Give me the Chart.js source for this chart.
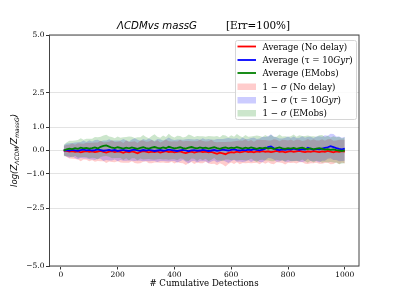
<!DOCTYPE html>
<html>
<head>
<meta charset="utf-8">
<script src="https://cdn.jsdelivr.net/npm/chart.js@4"></script>
<style>
  html, body { margin: 0; padding: 0; background: #fff; }
  #wrap { width: 399px; height: 299px; }
</style>
</head>
<body>
<div id="wrap"><canvas id="myChart" width="399" height="299"></canvas></div>
<script>
// detections axis (every 10th point)
const detections = [10,20,30,40,50,60,70,80,90,100,110,120,130,140,150,160,170,180,190,200,
  210,220,230,240,250,260,270,280,290,300,310,320,330,340,350,360,370,380,390,400,
  410,420,430,440,450,460,470,480,490,500,510,520,530,540,550,560,570,580,590,600,
  610,620,630,640,650,660,670,680,690,700,710,720,730,740,750,760,770,780,790,800,
  810,820,830,840,850,860,870,880,890,900,910,920,930,940,950,960,970,980,990,1000];

const avgNoDelay = [0.0,-0.02,-0.05,-0.03,-0.06,-0.04,-0.08,-0.05,-0.03,-0.06,
  -0.04,-0.07,-0.05,-0.02,-0.06,-0.09,-0.05,-0.03,-0.07,-0.04,
  -0.06,-0.1,-0.05,-0.08,-0.04,-0.07,-0.12,-0.06,-0.03,-0.05,
  -0.08,-0.05,-0.07,-0.04,-0.09,-0.06,-0.03,-0.07,-0.05,-0.08,
  -0.06,-0.04,-0.08,-0.11,-0.07,-0.05,-0.09,-0.06,-0.04,-0.07,
  -0.05,-0.08,-0.06,-0.1,-0.14,-0.09,-0.12,-0.16,-0.1,-0.07,
  -0.09,-0.05,-0.08,-0.06,-0.03,-0.07,-0.05,-0.08,-0.04,-0.06,
  -0.03,-0.06,-0.04,-0.07,-0.05,-0.02,-0.06,-0.04,-0.08,-0.05,
  -0.03,-0.06,-0.04,-0.02,-0.05,-0.07,-0.04,-0.06,-0.03,-0.05,
  -0.07,-0.04,-0.06,-0.02,-0.05,-0.08,-0.04,-0.06,-0.03,-0.05];

const avgTau = [0.0,0.02,0.0,0.03,0.01,-0.01,0.02,0.04,0.01,0.03,
  0.0,0.02,0.05,0.02,-0.01,0.01,0.03,0.0,0.02,-0.02,
  0.01,0.03,0.0,-0.02,0.02,0.04,0.01,-0.01,0.02,0.0,
  0.03,0.01,-0.02,0.0,0.02,-0.01,0.01,0.04,0.02,0.0,
  -0.02,0.01,0.03,0.0,-0.03,0.01,0.02,-0.01,0.0,0.03,
  0.01,-0.02,0.0,0.02,-0.01,0.01,0.04,0.02,0.0,0.03,
  0.05,0.02,0.0,0.03,0.01,0.04,0.02,0.06,0.03,0.01,
  0.04,0.08,0.15,0.18,0.1,0.04,0.02,0.05,0.03,0.06,
  0.04,0.08,0.05,0.03,0.06,0.04,0.12,0.07,0.04,0.07,
  0.05,0.08,0.11,0.14,0.19,0.15,0.1,0.07,0.05,0.08];

const avgEMobs = [0.0,0.05,0.08,0.06,0.1,0.07,0.12,0.09,0.11,0.08,
  0.1,0.13,0.09,0.16,0.2,0.22,0.17,0.12,0.1,0.14,
  0.11,0.08,0.12,0.09,0.13,0.1,0.07,0.11,0.14,0.1,
  0.08,0.12,0.15,0.11,0.09,0.13,0.1,0.16,0.12,0.09,
  0.11,0.14,0.1,0.08,0.12,0.15,0.11,0.09,0.13,0.1,
  0.12,0.08,0.11,0.14,0.1,0.07,0.11,0.13,0.09,0.12,
  0.1,0.14,0.11,0.08,0.12,0.09,0.13,0.1,0.07,0.11,
  0.09,0.12,0.08,0.11,0.06,0.1,0.13,0.09,0.07,0.1,
  0.08,0.11,0.07,0.1,0.12,0.08,0.06,0.09,0.05,0.08,
  0.1,0.07,0.04,0.06,0.03,0.05,0.02,0.0,-0.02,0.01];

// 1-sigma half widths
const sigNoDelay = [0.2,0.26,0.3,0.33,0.31,0.35,0.38,0.34,0.37,0.4,
  0.38,0.42,0.4,0.44,0.41,0.45,0.43,0.47,0.44,0.42,
  0.46,0.43,0.48,0.45,0.42,0.47,0.44,0.49,0.46,0.43,
  0.47,0.5,0.45,0.48,0.44,0.46,0.51,0.47,0.44,0.48,
  0.45,0.5,0.47,0.52,0.48,0.45,0.49,0.46,0.51,0.48,
  0.44,0.48,0.52,0.47,0.5,0.46,0.49,0.53,0.48,0.45,
  0.49,0.46,0.51,0.48,0.52,0.47,0.5,0.46,0.49,0.53,
  0.48,0.51,0.47,0.5,0.54,0.49,0.46,0.5,0.53,0.48,
  0.51,0.47,0.52,0.49,0.46,0.5,0.54,0.49,0.52,0.48,
  0.5,0.53,0.48,0.51,0.55,0.5,0.47,0.52,0.49,0.51];

const sigTau = [0.22,0.28,0.31,0.29,0.34,0.37,0.35,0.39,0.36,0.41,
  0.39,0.43,0.41,0.38,0.44,0.42,0.46,0.43,0.41,0.45,
  0.42,0.47,0.44,0.41,0.46,0.49,0.45,0.43,0.48,0.45,
  0.49,0.46,0.43,0.5,0.47,0.44,0.48,0.52,0.47,0.45,
  0.5,0.47,0.44,0.49,0.53,0.48,0.46,0.51,0.47,0.5,
  0.47,0.52,0.48,0.45,0.51,0.49,0.46,0.5,0.54,0.49,
  0.46,0.51,0.48,0.53,0.49,0.46,0.52,0.5,0.47,0.51,
  0.55,0.5,0.47,0.52,0.49,0.53,0.5,0.47,0.52,0.55,
  0.5,0.53,0.49,0.52,0.56,0.51,0.48,0.53,0.5,0.54,
  0.57,0.52,0.55,0.5,0.53,0.56,0.51,0.54,0.5,0.52];

const sigEMobs = [0.25,0.3,0.34,0.36,0.33,0.38,0.41,0.37,0.4,0.43,
  0.41,0.45,0.48,0.44,0.45,0.46,0.44,0.46,0.43,0.47,
  0.44,0.49,0.46,0.52,0.47,0.44,0.5,0.46,0.53,0.48,
  0.45,0.51,0.55,0.49,0.46,0.52,0.48,0.56,0.5,0.47,
  0.53,0.49,0.46,0.52,0.57,0.5,0.47,0.54,0.49,0.52,
  0.48,0.55,0.51,0.47,0.53,0.5,0.56,0.52,0.48,0.54,
  0.5,0.57,0.52,0.49,0.55,0.51,0.48,0.53,0.58,0.52,
  0.49,0.55,0.51,0.57,0.53,0.5,0.56,0.52,0.55,0.5,
  0.54,0.58,0.52,0.56,0.51,0.55,0.59,0.53,0.57,0.52,
  0.56,0.6,0.54,0.58,0.53,0.57,0.55,0.59,0.54,0.56];

const xTicks = [0, 200, 400, 600, 800, 1000];
const yTicks = [-5, -2.5, -1, 0, 1, 2.5, 5];

const serif = '"DejaVu Serif", serif';
const sans = '"DejaVu Sans", sans-serif';

function pts(ys, off, sign) {
  return detections.map((x, i) => ({x: x, y: ys[i] + (off ? sign * off[i] : 0)}));
}

function lineSet(label, ys, color, order) {
  return {label: label, data: pts(ys), borderColor: color, borderWidth: 1.8,
    pointRadius: 0, fill: false, tension: 0, order: order};
}
function bandSets(label, ys, sig, color, order) {
  return [
    {label: label, data: pts(ys, sig, 1), borderWidth: 0, pointRadius: 0,
      backgroundColor: color, fill: '+1', order: order},
    {label: '', data: pts(ys, sig, -1), borderWidth: 0, pointRadius: 0,
      fill: false, order: order}
  ];
}

const datasets = [
  ...bandSets('1 − σ (No delay)', avgNoDelay, sigNoDelay, 'rgba(255,0,0,0.2)', 6),
  ...bandSets('1 − σ (τ = 10Gyr)', avgTau, sigTau, 'rgba(0,0,255,0.2)', 5),
  ...bandSets('1 − σ (EMobs)', avgEMobs, sigEMobs, 'rgba(0,128,0,0.2)', 4),
  lineSet('Average (No delay)', avgNoDelay, '#ff0000', 3),
  lineSet('Average (τ = 10Gyr)', avgTau, '#0000ff', 2),
  lineSet('Average (EMobs)', avgEMobs, '#008000', 1)
];

// draw a run of [text, font, dy] pieces starting at x
function drawRuns(ctx, runs, x, y) {
  runs.forEach(r => {
    ctx.font = r[1];
    ctx.fillText(r[0], x, y + (r[2] || 0));
    x += ctx.measureText(r[0]).width;
  });
  return x;
}
function runsWidth(ctx, runs) {
  let w = 0;
  runs.forEach(r => { ctx.font = r[1]; w += ctx.measureText(r[0]).width; });
  return w;
}

const decor = {
  id: 'decor',
  afterDraw(chart) {
    const ctx = chart.ctx, a = chart.chartArea;
    ctx.save();
    // frame
    ctx.strokeStyle = '#444';
    ctx.lineWidth = 1;
    ctx.strokeRect(a.left, a.top, a.right - a.left, a.bottom - a.top);

    ctx.fillStyle = '#000';
    ctx.textBaseline = 'alphabetic';
    // title
    ctx.font = 'italic 10.2px ' + sans;
    ctx.fillText('ΛCDMvs massG', 117, 29);
    ctx.font = '10.4px ' + serif;
    ctx.fillText('[Err=100%]', 226, 29);

    // x label
    ctx.font = '8.6px ' + serif;
    ctx.textAlign = 'center';
    ctx.fillText('# Cumulative Detections', 204, 286);
    ctx.textAlign = 'left';

    // y label
    const big = 'italic 8.6px ' + sans, small = 'italic 6px ' + sans;
    const yl = [['log(Z', big], ['ΛCDM', small, 2], ['/Z', big], ['massG', small, 2], [')', big]];
    ctx.save();
    ctx.translate(17, 150.5);
    ctx.rotate(-Math.PI / 2);
    drawRuns(ctx, yl, -runsWidth(ctx, yl) / 2, 0);
    ctx.restore();

    // legend
    const lx = 235.5, ly = 40.5, lw = 121, lh = 79;
    ctx.fillStyle = 'rgba(255,255,255,0.85)';
    ctx.strokeStyle = '#d6d6d6';
    ctx.lineWidth = 1;
    ctx.beginPath();
    ctx.roundRect(lx, ly, lw, lh, 2);
    ctx.fill();
    ctx.stroke();

    const f = '8.7px ' + serif, fi = 'italic 8.7px ' + serif;
    const rows = [
      {type: 'line', color: '#ff0000', runs: [['Average (No delay)', f]]},
      {type: 'line', color: '#0000ff', runs: [['Average (τ = 10', f], ['Gyr', fi], [')', f]]},
      {type: 'line', color: '#008000', runs: [['Average (EMobs)', f]]},
      {type: 'box', color: 'rgba(255,0,0,0.2)', runs: [['1 − ', f], ['σ', fi], [' (No delay)', f]]},
      {type: 'box', color: 'rgba(0,0,255,0.2)', runs: [['1 − ', f], ['σ', fi], [' (τ = 10', f], ['Gyr', fi], [')', f]]},
      {type: 'box', color: 'rgba(0,128,0,0.2)', runs: [['1 − ', f], ['σ', fi], [' (EMobs)', f]]}
    ];
    const rowY = [46.5, 60, 73, 86.5, 100, 113];
    rows.forEach((r, i) => {
      const cy = rowY[i];
      if (r.type === 'line') {
        ctx.strokeStyle = r.color;
        ctx.lineWidth = 1.8;
        ctx.beginPath();
        ctx.moveTo(237.5, cy);
        ctx.lineTo(256, cy);
        ctx.stroke();
      } else {
        ctx.fillStyle = r.color;
        ctx.fillRect(237.5, cy - 3, 18.5, 6.5);
      }
      ctx.fillStyle = '#000';
      drawRuns(ctx, r.runs, 262.5, cy + 3);
    });
    ctx.restore();
  }
};

const ctx = document.getElementById('myChart');
const myChart = new Chart(ctx, {
  type: 'line',
  data: {datasets: datasets},
  options: {
    responsive: false,
    animation: false,
    devicePixelRatio: 1,
    layout: {padding: {left: 0, right: 40, top: 35, bottom: 0}},
    plugins: {legend: {display: false}, tooltip: {enabled: false}, title: {display: false}},
    scales: {
      x: {
        type: 'linear',
        min: -40, max: 1050,
        afterBuildTicks: s => { s.ticks = xTicks.map(v => ({value: v})); },
        afterFit: s => { s.height = 33; },
        grid: {drawOnChartArea: false, tickLength: 3.5, tickColor: '#333'},
        border: {display: false},
        ticks: {color: '#000', font: {family: serif, size: 7.5}, padding: 1.5, maxRotation: 0,
          callback: v => String(v)}
      },
      y: {
        type: 'linear',
        min: -5, max: 5,
        afterBuildTicks: s => { s.ticks = yTicks.map(v => ({value: v})); },
        afterFit: s => { s.width = 49.5; },
        grid: {color: '#e3e3e3', lineWidth: 1, tickLength: 3.5, tickColor: '#333'},
        border: {display: false},
        ticks: {color: '#000', font: {family: serif, size: 7.5}, padding: 1.5,
          callback: v => (v < 0 ? '−' : '') + Math.abs(v).toFixed(1)}
      }
    }
  },
  plugins: [decor]
});
</script>
</body>
</html>
